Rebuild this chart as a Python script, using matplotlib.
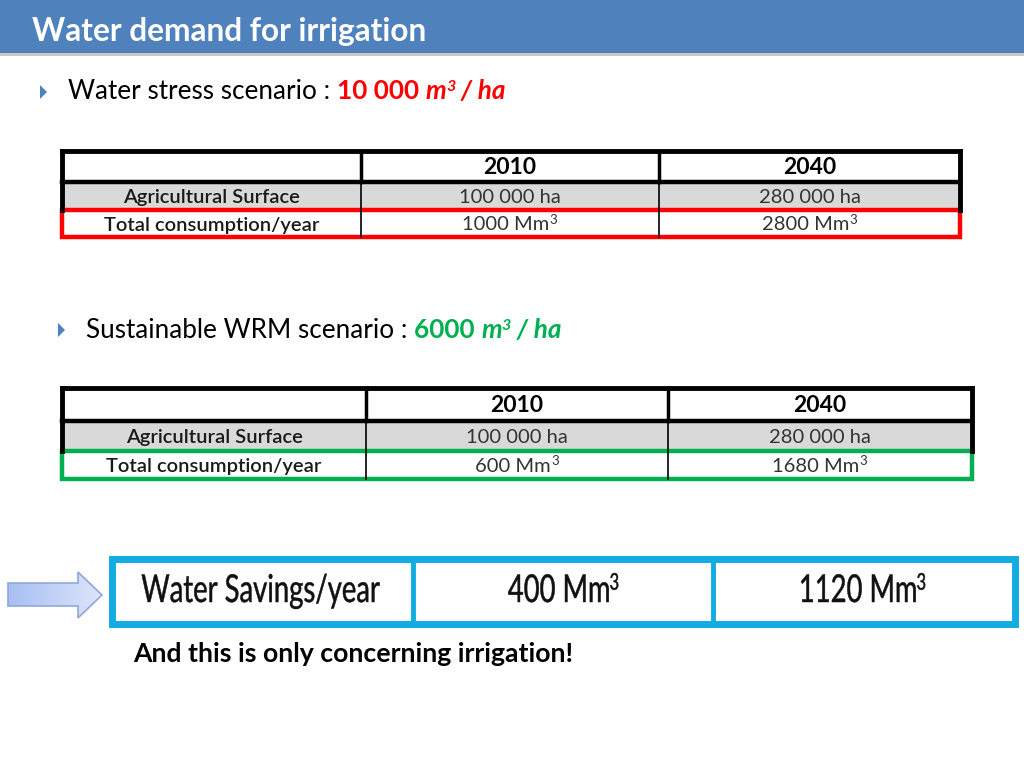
import matplotlib
matplotlib.use("Agg")
import numpy as np
import matplotlib.pyplot as plt
from matplotlib.patches import Rectangle, Polygon, PathPatch
from matplotlib.textpath import TextPath
from matplotlib.font_manager import FontProperties
from matplotlib.transforms import Affine2D
from matplotlib.colors import LinearSegmentedColormap

# ---- data ----
years = ["2010", "2040"]
surface_ha = [100000, 280000]
stress_rate = 10000      # m3/ha
sustain_rate = 6000      # m3/ha
stress_consumption = [1000, 2800]   # Mm3
sustain_consumption = [600, 1680]   # Mm3
savings = [400, 1120]               # Mm3
row_labels = ["Agricultural Surface", "Total consumption/year"]

FONT = "Lato"
plt.rcParams["font.family"] = [FONT, "DejaVu Sans"]

fig = plt.figure(figsize=(10.24, 7.68), dpi=100)
ax = fig.add_axes([0, 0, 1, 1])
ax.set_xlim(0, 1024)
ax.set_ylim(768, 0)
ax.axis("off")
renderer = fig.canvas.get_renderer()


def fmt_space(v):
    return f"{v:,}".replace(",", " ")


# ---- header band ----
ax.add_patch(Rectangle((0, 0), 1024, 53, facecolor="#4F81BD", edgecolor="none"))
ax.add_patch(Rectangle((0, 53), 1024, 3, facecolor="#C8C8C8", edgecolor="none"))
ax.text(32, 41, "Water demand for irrigation", color="white", fontsize=22.8,
        fontweight="bold", va="baseline", ha="left")


def rich(x, y, parts, ha="left"):
    """parts: (text, size, color, weight, style, dy_px_up)"""
    objs = []
    total = 0
    for txt, size, col, w, st, dy in parts:
        t = ax.text(0, y - dy, txt, color=col, fontsize=size, fontweight=w,
                    fontstyle=st, va="baseline", ha="left")
        wdt = t.get_window_extent(renderer=renderer).width
        objs.append((t, wdt))
        total += wdt
    cx = x - total / 2 if ha == "center" else x
    for t, wdt in objs:
        t.set_x(cx)
        cx += wdt
    return cx


def bullet(x, y):
    ax.add_patch(Polygon([(x, y - 7), (x, y + 7), (x + 7, y)], closed=True,
                         facecolor="#4F81BD", edgecolor="none"))


BS = 18.8
# ---- bullet 1 ----
bullet(40, 92)
rich(68, 99, [("Water stress scenario : ", BS, "black", "normal", "normal", 0),
              (fmt_space(stress_rate) + " ", BS, "#FF0000", "bold", "normal", 0),
              ("m", BS, "#FF0000", "bold", "italic", 0),
              ("3", 11.5, "#FF0000", "bold", "italic", 8),
              (" / ha", BS, "#FF0000", "bold", "italic", 0)])

# ---- bullet 2 ----
bullet(58, 330)
rich(86, 338, [("Sustainable WRM scenario : ", BS, "black", "normal", "normal", 0),
               (f"{sustain_rate} ", BS, "#00B050", "bold", "normal", 0),
               ("m", BS, "#00B050", "bold", "italic", 0),
               ("3", 11.5, "#00B050", "bold", "italic", 8),
               (" / ha", BS, "#00B050", "bold", "italic", 0)])


def draw_table(cols, rows, surf, cons, highlight, tsize=14.5):
    x0, x3 = cols[0], cols[-1]
    ax.add_patch(Rectangle((x0, rows[1]), x3 - x0, rows[2] - rows[1],
                           facecolor="#D9D9D9", edgecolor="none"))
    ax.plot([x0, x3], [rows[1], rows[1]], color="black", lw=3.2)
    for cx in cols[1:-1]:
        ax.plot([cx, cx], [rows[0], rows[1]], color="black", lw=2.5)
        ax.plot([cx, cx], [rows[1], rows[3]], color="black", lw=1.2)
    ax.plot([x0, x3], [rows[0], rows[0]], color="black", lw=3.5)
    ax.plot([x0, x0], [rows[0], rows[2]], color="black", lw=3.5)
    ax.plot([x3, x3], [rows[0], rows[2]], color="black", lw=3.5)
    ax.add_patch(Rectangle((x0, rows[2]), x3 - x0, rows[3] - rows[2],
                           facecolor="none", edgecolor=highlight, lw=3.2))
    base = [(rows[i] + rows[i + 1]) / 2 + 7 for i in range(3)]
    for j, yr in enumerate(years):
        ax.text((cols[j + 1] + cols[j + 2]) / 2, base[0] + 1, yr, fontsize=16.5,
                fontweight="bold", ha="center", va="baseline", color="black")
    for i, lab in enumerate(row_labels):
        ax.text((cols[0] + cols[1]) / 2, base[i + 1], lab, fontsize=tsize,
                fontweight="semibold", ha="center", va="baseline", color="#1a1a1a")
    for j in range(2):
        mid = (cols[j + 1] + cols[j + 2]) / 2
        rich(mid, base[1], [(f"{fmt_space(surf[j])} ha", tsize, "#333333",
                             "normal", "normal", 0)], ha="center")
        rich(mid, base[2], [(f"{cons[j]} Mm", tsize, "#333333", "normal", "normal", 0),
                            ("3", 9.5, "#333333", "normal", "normal", 7)], ha="center")


draw_table([62, 361, 659, 960], [151, 182, 210, 237],
           surface_ha, stress_consumption, "#FF0000")
draw_table([62, 366, 668, 972], [388, 421, 451, 479],
           surface_ha, sustain_consumption, "#00B050")

# ---- savings box ----
bx0, bx1, by0, by1 = 112, 1015, 559, 624
ax.add_patch(Rectangle((bx0, by0), bx1 - bx0, by1 - by0, facecolor="white",
                       edgecolor="#12ACE3", lw=5))
for cx in [413, 713]:
    ax.plot([cx, cx], [by0, by1], color="#12ACE3", lw=3.5)

fp = FontProperties(family=FONT, weight="normal")
cap_h = TextPath((0, 0), "W", size=1, prop=fp).get_extents().y1
SY = 27.5 / cap_h                       # cap height in px
lab_ext = TextPath((0, 0), "Water Savings/year", size=1, prop=fp).get_extents()
SX = 238.0 / lab_ext.width              # condensed width


def path_text(s, xc, baseline, sup=None):
    main = TextPath((0, 0), s, size=1, prop=fp)
    wmain = main.get_extents().x1
    paths = [(main, 0, 0, 1.0)]
    total = wmain
    if sup:
        sp = TextPath((0, 0), sup, size=1, prop=fp)
        paths.append((sp, wmain + 0.03, 0.32, 0.6))
        total = wmain + 0.03 + sp.get_extents().x1 * 0.6
    x_left = xc - total * SX / 2
    for p, dx, dy, sc in paths:
        tr = (Affine2D().scale(sc).translate(dx, dy).scale(SX, -SY)
              .translate(x_left, baseline))
        ax.add_patch(PathPatch(tr.transform_path(p), facecolor="#111111",
                               edgecolor="#111111", lw=0.35))


path_text("Water Savings/year", 141 + 239 / 2, 602)
path_text(f"{savings[0]} Mm", 563, 602, sup="3")
path_text(f"{savings[1]} Mm", 862, 602, sup="3")

# ---- arrow with gradient ----
arrow_pts = [(8, 583), (78, 583), (78, 572), (102, 595), (78, 618),
             (78, 606), (8, 606)]
arrow = Polygon(arrow_pts, closed=True, facecolor="none", edgecolor="#8FA8DA",
                lw=1.2, zorder=3)
ax.add_patch(arrow)
grad = np.linspace(0, 1, 256)[None, :]
cm = LinearSegmentedColormap.from_list("g", ["#A9BFF3", "#DCE6FA"])
im = ax.imshow(grad, cmap=cm, extent=(8, 102, 618, 572), aspect="auto", zorder=2)
im.set_clip_path(arrow)
ax.set_xlim(0, 1024)
ax.set_ylim(768, 0)

ax.text(133, 662, "And this is only concerning irrigation!", fontsize=19.2,
        fontweight="bold", ha="left", va="baseline", color="black")

fig.savefig("out.png", dpi=100)
